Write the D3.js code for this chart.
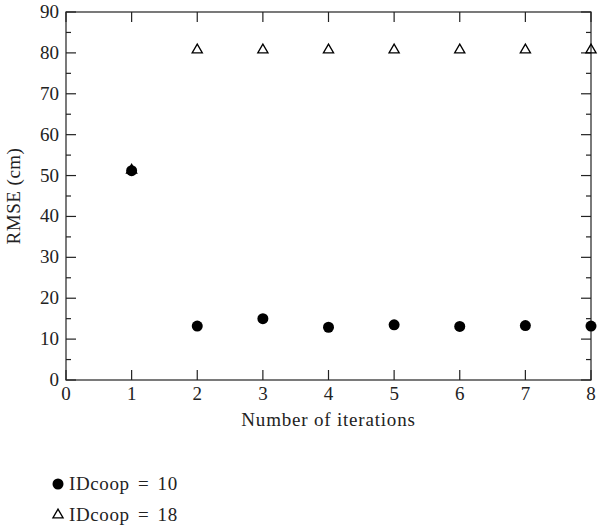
<!DOCTYPE html>
<html>
<head>
<meta charset="utf-8">
<script src="https://cdn.jsdelivr.net/npm/d3@7"></script>
<style>
  body { margin: 0; background: #fff; }
  svg text { font-family: "Liberation Serif", "DejaVu Serif", serif; fill: #222; }
</style>
</head>
<body>
<svg id="chart" width="598" height="525"></svg>
<script>
// data
var iterations = [1, 2, 3, 4, 5, 6, 7, 8];
var rmse10 = [51.2, 13.2, 15.0, 12.9, 13.5, 13.1, 13.3, 13.2];
var rmse18 = [51.3, 80.7, 80.7, 80.7, 80.7, 80.7, 80.7, 80.7];
var xTicks = [0, 1, 2, 3, 4, 5, 6, 7, 8];
var yTicks = [0, 10, 20, 30, 40, 50, 60, 70, 80, 90];
var yMinor = [5, 15, 25, 35, 45, 55, 65, 75, 85];

var svg = d3.select('#chart');
var mLeft = 66, mRight = 591, mTop = 12, mBottom = 380;

var x = d3.scaleLinear().domain([0, 8]).range([mLeft, mRight]);
var y = d3.scaleLinear().domain([0, 90]).range([mBottom, mTop]);

var axisColor = '#222';

// frame
svg.append('rect')
   .attr('x', mLeft).attr('y', mTop)
   .attr('width', mRight - mLeft).attr('height', mBottom - mTop)
   .attr('fill', 'none').attr('stroke', axisColor).attr('stroke-width', 1.2);

// y ticks, both sides, pointing inward
yTicks.forEach(function(v) {
   svg.append('line').attr('x1', mLeft).attr('x2', mLeft + 10)
      .attr('y1', y(v)).attr('y2', y(v)).attr('stroke', axisColor).attr('stroke-width', 1.2);
   svg.append('line').attr('x1', mRight).attr('x2', mRight - 10)
      .attr('y1', y(v)).attr('y2', y(v)).attr('stroke', axisColor).attr('stroke-width', 1.2);
   svg.append('text')
      .attr('x', mLeft - 7).attr('y', y(v) + 6)
      .attr('text-anchor', 'end')
      .style('font-size', '19px')
      .text(v);
});
yMinor.forEach(function(v) {
   svg.append('line').attr('x1', mLeft).attr('x2', mLeft + 5)
      .attr('y1', y(v)).attr('y2', y(v)).attr('stroke', axisColor).attr('stroke-width', 1.2);
   svg.append('line').attr('x1', mRight).attr('x2', mRight - 5)
      .attr('y1', y(v)).attr('y2', y(v)).attr('stroke', axisColor).attr('stroke-width', 1.2);
});

// x ticks, top and bottom, pointing inward
xTicks.forEach(function(v) {
   svg.append('line').attr('x1', x(v)).attr('x2', x(v))
      .attr('y1', mBottom).attr('y2', mBottom - 10).attr('stroke', axisColor).attr('stroke-width', 1.2);
   svg.append('line').attr('x1', x(v)).attr('x2', x(v))
      .attr('y1', mTop).attr('y2', mTop + 10).attr('stroke', axisColor).attr('stroke-width', 1.2);
   svg.append('text')
      .attr('x', x(v)).attr('y', mBottom + 20)
      .attr('text-anchor', 'middle')
      .style('font-size', '19px')
      .text(v);
});

// axis titles
svg.append('text')
   .attr('x', (mLeft + mRight) / 2).attr('y', 426)
   .attr('text-anchor', 'middle')
   .style('font-size', '19px')
   .style('letter-spacing', '0.8px')
   .text('Number of iterations');

svg.append('text')
   .attr('transform', 'translate(20,' + ((mTop + mBottom) / 2) + ') rotate(-90)')
   .attr('text-anchor', 'middle')
   .style('font-size', '19px')
   .style('letter-spacing', '0.5px')
   .text('RMSE (cm)');

var tri = d3.symbol().type(d3.symbolTriangle).size(45);

// series
svg.selectAll('path.s18')
   .data(iterations)
   .enter().append('path')
   .attr('class', 's18')
   .attr('d', tri)
   .attr('transform', function(d, i) { return 'translate(' + x(d) + ',' + y(rmse18[i]) + ')'; })
   .attr('fill', 'none').attr('stroke', '#000').attr('stroke-width', 1.3);

svg.selectAll('circle.s10')
   .data(iterations)
   .enter().append('circle')
   .attr('class', 's10')
   .attr('cx', function(d) { return x(d); })
   .attr('cy', function(d, i) { return y(rmse10[i]); })
   .attr('r', 5.5)
   .attr('fill', '#000');

// legend
svg.append('circle').attr('cx', 58).attr('cy', 484).attr('r', 5.5).attr('fill', '#000');
svg.append('text').attr('x', 69).attr('y', 490).style('font-size', '19px')
   .style('letter-spacing', '0.6px').style('word-spacing', '3px').text('IDcoop = 10');
svg.append('path').attr('d', tri)
   .attr('transform', 'translate(58,515)')
   .attr('fill', 'none').attr('stroke', '#000').attr('stroke-width', 1.3);
svg.append('text').attr('x', 69).attr('y', 521).style('font-size', '19px')
   .style('letter-spacing', '0.6px').style('word-spacing', '3px').text('IDcoop = 18');
</script>
</body>
</html>
